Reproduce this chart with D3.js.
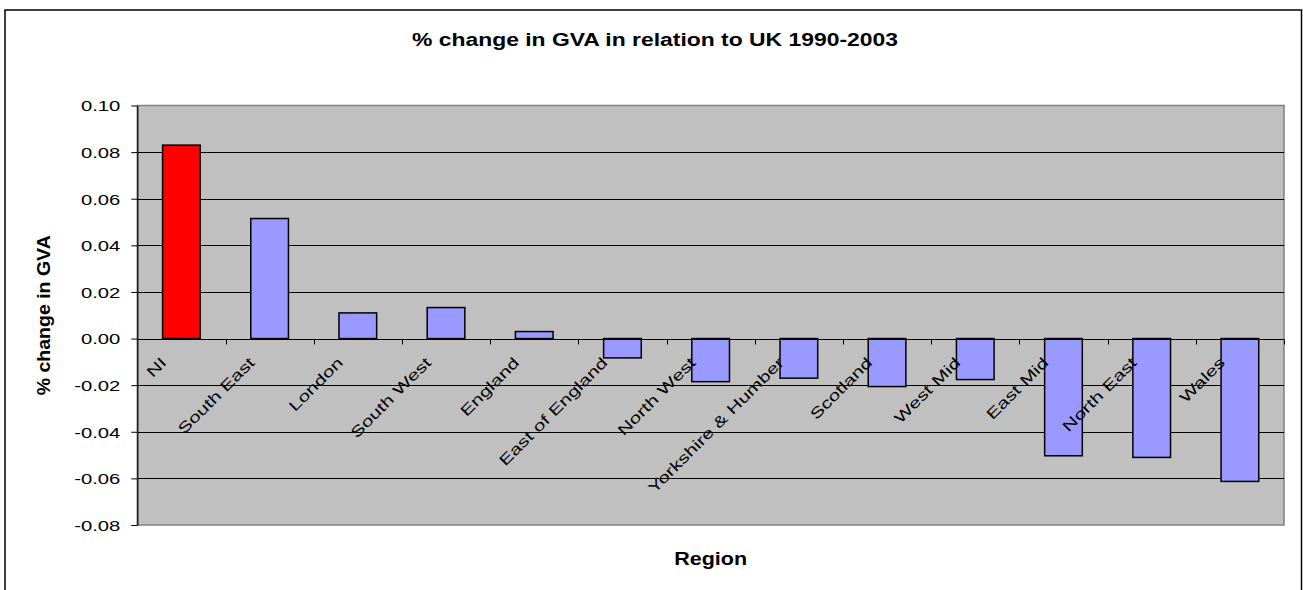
<!DOCTYPE html>
<html>
<head>
<meta charset="utf-8">
<script src="https://cdn.jsdelivr.net/npm/d3@7"></script>
<style>
  html, body { margin: 0; padding: 0; background: #ffffff; }
  svg { display: block; }
  text { font-family: Arial, "Liberation Sans", sans-serif; fill: #000; }
</style>
</head>
<body>
<div id="chart"></div>
<script>
// ---- data ----
const categories = ["NI", "South East", "London", "South West", "England", "East of England",
  "North West", "Yorkshire & Humber", "Scotland", "West Mid", "East Mid", "North East", "Wales"];
const values = [0.083, 0.0515, 0.011, 0.0133, 0.003, -0.0083, -0.0185, -0.017, -0.0206,
  -0.0176, -0.0503, -0.051, -0.0613];
const highlight = ["NI"];
const yTickValues = [-0.08, -0.06, -0.04, -0.02, 0.00, 0.02, 0.04, 0.06, 0.08, 0.10];
const titleText = "% change in GVA in relation to UK 1990-2003";
const yTitleText = "% change in GVA";
const xTitleText = "Region";

// ---- layout ----
const W = 1303, H = 590;
const plot = { left: 137.3, right: 1284, top: 105.5, bottom: 525 };
const tickStretch = 1.35, catStretch = 1.38;

const svg = d3.select("#chart").append("svg").attr("width", W).attr("height", H);

// outer chart border
svg.append("rect").attr("x", 5).attr("y", 10).attr("width", 1296.5).attr("height", 600)
  .attr("fill", "#fff").attr("stroke", "#000").attr("stroke-width", 1.5);

const y = d3.scaleLinear().domain([-0.08, 0.10]).range([plot.bottom, plot.top]);
const xSlot = d3.scaleBand().domain(categories).range([plot.left, plot.right]).padding(0);
const x = d3.scaleBand().domain(categories).range([plot.left, plot.right])
  .paddingInner(0.573).paddingOuter(0.2865);

// plot area background
svg.append("rect").attr("x", plot.left).attr("y", plot.top)
  .attr("width", plot.right - plot.left).attr("height", plot.bottom - plot.top)
  .attr("fill", "#c0c0c0").attr("stroke", "#808080").attr("stroke-width", 1.5);

// gridlines
svg.append("g").selectAll("line").data(yTickValues.filter(v => v !== 0.10 && v !== -0.08))
  .join("line")
  .attr("x1", plot.left).attr("x2", plot.right)
  .attr("y1", d => Math.round(y(d)) + 0.5).attr("y2", d => Math.round(y(d)) + 0.5)
  .attr("stroke", "#000").attr("stroke-width", 1);

// y axis
const yAxis = svg.append("g").attr("transform", `translate(${plot.left},0)`)
  .call(d3.axisLeft(y).tickValues(yTickValues).tickSize(6).tickSizeOuter(0)
    .tickFormat(d => d.toFixed(2)));
yAxis.select(".domain").attr("stroke", "#000").attr("stroke-width", 1.2);
yAxis.selectAll(".tick line").attr("stroke", "#000");
yAxis.selectAll(".tick text")
  .attr("x", 0).attr("dy", "0.36em")
  .attr("transform", `translate(-17,0) scale(${tickStretch},1)`)
  .style("font-size", "15px").style("font-family", "Arial, 'Liberation Sans', sans-serif")
  .attr("fill", "#000");

// bars
svg.append("g").selectAll("rect").data(categories.map((c, i) => ({ c, v: values[i] })))
  .join("rect")
  .attr("x", d => x(d.c))
  .attr("width", x.bandwidth())
  .attr("y", d => y(Math.max(0, d.v)))
  .attr("height", d => Math.abs(y(d.v) - y(0)))
  .attr("fill", d => highlight.includes(d.c) ? "#ff0000" : "#9999ff")
  .attr("stroke", "#000").attr("stroke-width", 1.5);

// x axis line at zero
const y0 = Math.round(y(0)) + 0.5;
svg.append("line").attr("x1", plot.left).attr("x2", plot.right)
  .attr("y1", y0).attr("y2", y0).attr("stroke", "#000").attr("stroke-width", 1.2);
// x tick marks at category boundaries
svg.append("g").selectAll("line").data(categories.slice(1).map(c => xSlot(c)).concat([plot.right]))
  .join("line")
  .attr("x1", d => Math.round(d) + 0.5).attr("x2", d => Math.round(d) + 0.5)
  .attr("y1", y0).attr("y2", y0 + 5).attr("stroke", "#000");

// category labels
svg.append("g").selectAll("text").data(categories).join("text")
  .attr("transform", c => `translate(${xSlot(c) + xSlot.bandwidth() / 2 - 14},${y(0) + 25}) rotate(-45) scale(${catStretch},1)`)
  .attr("text-anchor", "end")
  .style("font-size", "15px")
  .text(c => c);

// title
svg.append("text").attr("x", 655).attr("y", 46).attr("text-anchor", "middle")
  .attr("textLength", 486).attr("lengthAdjust", "spacingAndGlyphs")
  .style("font-size", "18px").style("font-weight", "bold").text(titleText);

// x axis title
svg.append("text").attr("x", (plot.left + plot.right) / 2).attr("y", 565).attr("text-anchor", "middle")
  .attr("textLength", 73).attr("lengthAdjust", "spacingAndGlyphs")
  .style("font-size", "18px").style("font-weight", "bold").text(xTitleText);

// y axis title
svg.append("text").attr("transform", `translate(50,${(plot.top + plot.bottom) / 2}) rotate(-90)`)
  .attr("text-anchor", "middle")
  .attr("textLength", 160).attr("lengthAdjust", "spacingAndGlyphs")
  .style("font-size", "18px").style("font-weight", "bold").text(yTitleText);
</script>
</body>
</html>
